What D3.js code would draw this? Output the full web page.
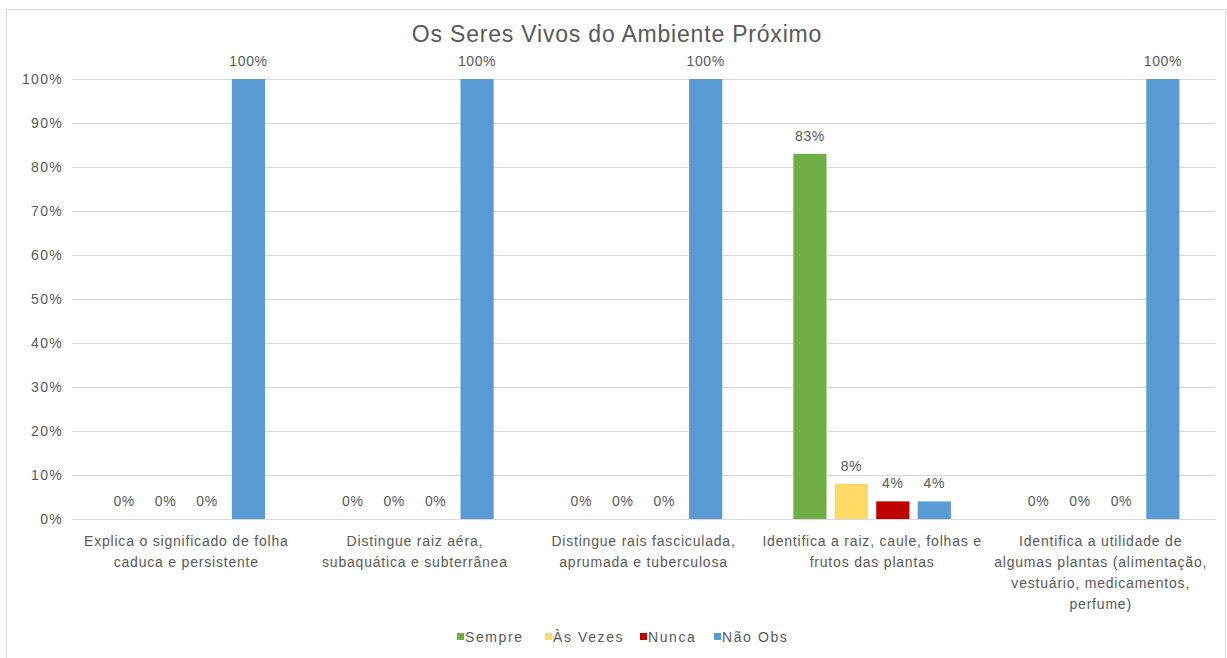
<!DOCTYPE html>
<html>
<head>
<meta charset="utf-8">
<script src="https://cdn.jsdelivr.net/npm/d3@7"></script>
<style>
  html, body { margin: 0; padding: 0; background: #fff; }
  svg { display: block; font-family: "Liberation Sans", Arial, sans-serif; }
</style>
</head>
<body>
<svg id="chart" width="1227" height="658"></svg>
<script>
// Chart data
const title = "Os Seres Vivos do Ambiente Próximo";
const categories = [
  ["Explica o significado de folha", "caduca e persistente"],
  ["Distingue raiz aéra,", "subaquática e subterrânea"],
  ["Distingue rais fasciculada,", "aprumada e tuberculosa"],
  ["Identifica a raiz, caule, folhas e", "frutos das plantas"],
  ["Identifica a utilidade de", "algumas plantas (alimentação,", "vestuário, medicamentos,", "perfume)"]
];
const seriesNames = ["Sempre", "Às Vezes", "Nunca", "Não Obs"];
const sempre  = [0, 0, 0, 83, 0];
const asVezes = [0, 0, 0, 8, 0];
const nunca   = [0, 0, 0, 4, 0];
const naoObs  = [100, 100, 100, 4, 100];
const yTicks = [0, 10, 20, 30, 40, 50, 60, 70, 80, 90, 100];
const colors = ["#70ad47", "#ffd966", "#c00000", "#5b9bd5"];

const seriesValues = [sempre, asVezes, nunca, naoObs];
const svg = d3.select("#chart");
const textColor = "#595959";

// Outer frame
svg.append("rect")
  .attr("x", 6.5).attr("y", 9.5).attr("width", 1219).attr("height", 660)
  .attr("fill", "#fff").attr("stroke", "#d9d9d9");

const plot = { left: 72, right: 1215, top: 79, bottom: 519 };

const y = d3.scaleLinear().domain([0, 100]).range([plot.bottom, plot.top]);
const catIdx = d3.range(categories.length);
const x0 = d3.scaleBand().domain(catIdx).range([plot.left, plot.right]).padding(0);
const inner = 157.5;
const x1 = d3.scaleBand().domain(d3.range(seriesNames.length))
  .range([(x0.bandwidth() - inner) / 2, (x0.bandwidth() + inner) / 2])
  .paddingInner(0.2).paddingOuter(0);

// Gridlines
svg.append("g")
  .selectAll("line").data(yTicks).join("line")
  .attr("x1", plot.left).attr("x2", plot.right)
  .attr("y1", d => Math.round(y(d)) + 0.5).attr("y2", d => Math.round(y(d)) + 0.5)
  .attr("stroke", "#d9d9d9").attr("stroke-width", 1);

// Y axis labels
const yAxis = d3.axisLeft(y).tickValues(yTicks).tickFormat(d => d + "%").tickSize(0).tickPadding(9);
const yg = svg.append("g").attr("transform", `translate(${plot.left},0)`).call(yAxis);
yg.select(".domain").remove();
yg.selectAll("text").attr("fill", textColor).attr("font-size", 14)
  .attr("letter-spacing", 1.3)
  .attr("font-family", "Liberation Sans, Arial, sans-serif");

// Bars
const groups = svg.append("g").selectAll("g").data(catIdx).join("g")
  .attr("transform", i => `translate(${x0(i)},0)`);

groups.selectAll("rect")
  .data(i => seriesValues.map((vals, s) => ({ s, v: vals[i] })))
  .join("rect")
  .attr("x", d => x1(d.s))
  .attr("width", x1.bandwidth())
  .attr("y", d => y(d.v))
  .attr("height", d => y(0) - y(d.v))
  .attr("fill", d => colors[d.s]);

// Value labels
groups.selectAll("text.val")
  .data(i => seriesValues.map((vals, s) => ({ s, v: vals[i] })))
  .join("text")
  .attr("class", "val")
  .attr("x", d => x1(d.s) + x1.bandwidth() / 2)
  .attr("y", d => y(d.v) - 13)
  .attr("text-anchor", "middle")
  .attr("font-size", 14)
  .attr("letter-spacing", 0.6)
  .attr("fill", textColor)
  .text(d => d.v + "%");

// Category labels
svg.append("g").selectAll("text").data(catIdx).join("text")
  .attr("x", i => x0(i) + x0.bandwidth() / 2)
  .attr("y", 546)
  .attr("text-anchor", "middle")
  .attr("font-size", 14)
  .attr("letter-spacing", 0.8)
  .attr("fill", textColor)
  .each(function(i) {
    d3.select(this).selectAll("tspan").data(categories[i]).join("tspan")
      .attr("x", x0(i) + x0.bandwidth() / 2)
      .attr("dy", (d, k) => k === 0 ? 0 : 21)
      .text(d => d);
  });

// Title
svg.append("text")
  .attr("x", 617).attr("y", 42)
  .attr("text-anchor", "middle")
  .attr("font-size", 23)
  .attr("letter-spacing", 0.8)
  .attr("fill", textColor)
  .text(title);

// Legend
const legendX = [457, 545, 640, 714];
const legend = svg.append("g").selectAll("g").data(seriesNames).join("g")
  .attr("transform", (d, k) => `translate(${legendX[k]},637)`);
legend.append("rect").attr("x", 0).attr("y", -4).attr("width", 7).attr("height", 7)
  .attr("fill", (d, k) => colors[k]);
legend.append("text").attr("x", 8).attr("y", 5)
  .attr("font-size", 14).attr("letter-spacing", 1.6).attr("fill", textColor)
  .text(d => d);
</script>
</body>
</html>
